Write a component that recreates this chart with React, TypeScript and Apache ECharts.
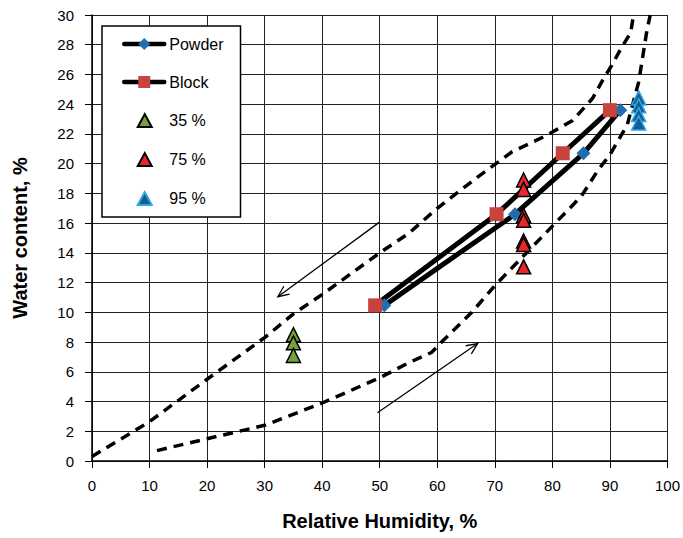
import React, { useEffect, useRef } from "react";
import * as echarts from "echarts";

const xMin = 0;
const xMax = 100;
const xStep = 10;
const yMin = 0;
const yMax = 30;
const yStep = 2;

const powder: number[][] = [[50.8, 10.47], [73.5, 16.6], [85.4, 20.7], [91.8, 23.6]];
const block: number[][] = [[49.2, 10.47], [70.3, 16.6], [81.8, 20.7], [90.0, 23.6]];
const rh35: number[][] = [[35, 8.5], [35, 7.95], [35, 7.1]];
const rh75: number[][] = [[75, 18.9], [75, 18.27], [75, 16.52], [75, 16.19], [75, 14.8], [75, 14.57], [75, 13.06]];
const rh95: number[][] = [[95, 24.42], [95, 23.89], [95, 23.3], [95, 22.74]];

const desorption: number[][] = [
  [0, 0.3], [10, 2.65], [20, 5.5], [30, 8.3], [35, 9.9], [40, 11.2], [50, 14.0], [55, 15.3],
  [60, 17.0], [67, 19.1], [73, 20.8], [79, 21.9], [83.5, 22.9], [87, 24.4], [89, 25.8],
  [90.3, 26.6], [92, 27.8], [93.6, 28.8], [94.1, 30],
];
const adsorption: number[][] = [
  [11.3, 0.7], [20, 1.5], [30, 2.4], [40, 3.9], [50, 5.6], [55, 6.6], [59, 7.3], [61, 8.1],
  [66, 10.0], [70, 11.8], [75, 13.8], [80, 15.8], [85, 17.8], [88, 19.6], [90, 20.6],
  [93, 22.6], [95, 25.5], [96.4, 28.9], [97, 30],
];
const arrows: number[][] = [
  [49.9, 16.05, 32.3, 11.05],
  [49.6, 3.24, 67.0, 7.9],
];

const lineLegend = ["Powder", "Block"];
const triLegend = ["35 %", "75 %", "95 %"];

const FONT = "'Liberation Sans', Arial, sans-serif";
// small triangle inside the 40x15 legend icon box (move-only points keep the box size)
const TRI_ICON = "path://M0,0M40,0M40,15M0,15M13.5,14L20.5,1L27.5,14Z";

export default function App() {
  const ref = useRef<HTMLDivElement>(null);
  useEffect(() => {
    if (!ref.current) return;
    const chart = echarts.init(ref.current, null, { renderer: "svg" });
    const dashed = {
      type: "line",
      showSymbol: false,
      symbol: "none",
      silent: true,
      z: 2,
      lineStyle: { color: "#000", width: 3.5, type: [10, 7] },
    };
    const tri = (color: string, border: string, bw: number) => ({
      type: "scatter",
      symbol: "triangle",
      symbolSize: 14,
      z: 5,
      itemStyle: { color, borderColor: border, borderWidth: bw, opacity: 1 },
    });
    chart.setOption({
      animation: false,
      backgroundColor: "#fff",
      textStyle: { fontFamily: FONT },
      grid: { left: 92, right: 13, top: 15, bottom: 77 },
      legend: {
        data: [
          ...lineLegend.map((n) => ({ name: n })),
          ...triLegend.map((n) => ({ name: n, icon: TRI_ICON })),
        ],
        orient: "vertical",
        left: 102,
        top: 26,
        itemWidth: 40,
        itemHeight: 15,
        itemGap: 22,
        padding: [10, 17, 10, 20],
        backgroundColor: "#fff",
        borderColor: "#000",
        borderWidth: 1.5,
        borderRadius: 0,
        lineStyle: { width: 4.5 },
        textStyle: { fontSize: 16, color: "#000", fontFamily: FONT },
      },
      xAxis: {
        type: "value",
        min: xMin,
        max: xMax,
        interval: xStep,
        name: "Relative Humidity, %",
        nameLocation: "middle",
        nameGap: 50,
        nameTextStyle: { fontSize: 20, fontWeight: "bold", color: "#000", fontFamily: FONT },
        axisLine: { show: true, onZero: false, lineStyle: { color: "#000", width: 1.5 } },
        axisTick: { show: true, length: 7, lineStyle: { color: "#000" } },
        axisLabel: { fontSize: 15, color: "#000", margin: 17, fontFamily: FONT },
        splitLine: { show: true, lineStyle: { color: "#222", width: 1 } },
      },
      yAxis: {
        type: "value",
        min: yMin,
        max: yMax,
        interval: yStep,
        name: "Water content, %",
        nameLocation: "middle",
        nameGap: 62,
        nameTextStyle: { fontSize: 20, fontWeight: "bold", color: "#000", fontFamily: FONT },
        axisLine: { show: true, onZero: false, lineStyle: { color: "#000", width: 1.5 } },
        axisTick: { show: true, length: 7, lineStyle: { color: "#000" } },
        axisLabel: { fontSize: 15, color: "#000", margin: 18, fontFamily: FONT },
        splitLine: { show: true, lineStyle: { color: "#222", width: 1 } },
      },
      series: [
        { ...dashed, name: "desorption", data: desorption },
        { ...dashed, name: "adsorption", data: adsorption },
        {
          type: "custom",
          name: "arrows",
          data: arrows,
          silent: true,
          z: 6,
          encode: { x: [0, 2], y: [1, 3] },
          renderItem: (params: any, api: any) => {
            const p0 = api.coord([api.value(0), api.value(1)]);
            const p1 = api.coord([api.value(2), api.value(3)]);
            const ang = Math.atan2(p1[1] - p0[1], p1[0] - p0[0]);
            const L = 12;
            const a = 0.42;
            const h1 = [p1[0] - L * Math.cos(ang - a), p1[1] - L * Math.sin(ang - a)];
            const h2 = [p1[0] - L * Math.cos(ang + a), p1[1] - L * Math.sin(ang + a)];
            return {
              type: "group",
              children: [
                { type: "line", shape: { x1: p0[0], y1: p0[1], x2: p1[0], y2: p1[1] }, style: { stroke: "#000", lineWidth: 1.3 } },
                { type: "polyline", shape: { points: [h1, p1, h2] }, style: { stroke: "#000", fill: "none", lineWidth: 1.3 } },
              ],
            };
          },
        },
        {
          type: "line",
          name: "Powder",
          data: powder,
          symbol: "diamond",
          symbolSize: 14,
          z: 4,
          itemStyle: { color: "#1f6fb0" },
          lineStyle: { color: "#000", width: 5, cap: "round" },
        },
        {
          type: "line",
          name: "Block",
          data: block,
          symbol: "rect",
          symbolSize: 14,
          z: 4,
          itemStyle: { color: "#c8423e" },
          lineStyle: { color: "#000", width: 5, cap: "round" },
        },
        { ...tri("#76a13c", "#000", 1.5), name: "35 %", data: rh35 },
        { ...tri("#e8262b", "#000", 1.5), name: "75 %", data: rh75 },
        { ...tri("#145c94", "#2ea6e3", 1.5), name: "95 %", data: rh95 },
      ],
    });
    return () => chart.dispose();
  }, []);
  return <div ref={ref} style={{ width: 683, height: 538, position: "absolute", left: 0, top: 0 }} />;
}
